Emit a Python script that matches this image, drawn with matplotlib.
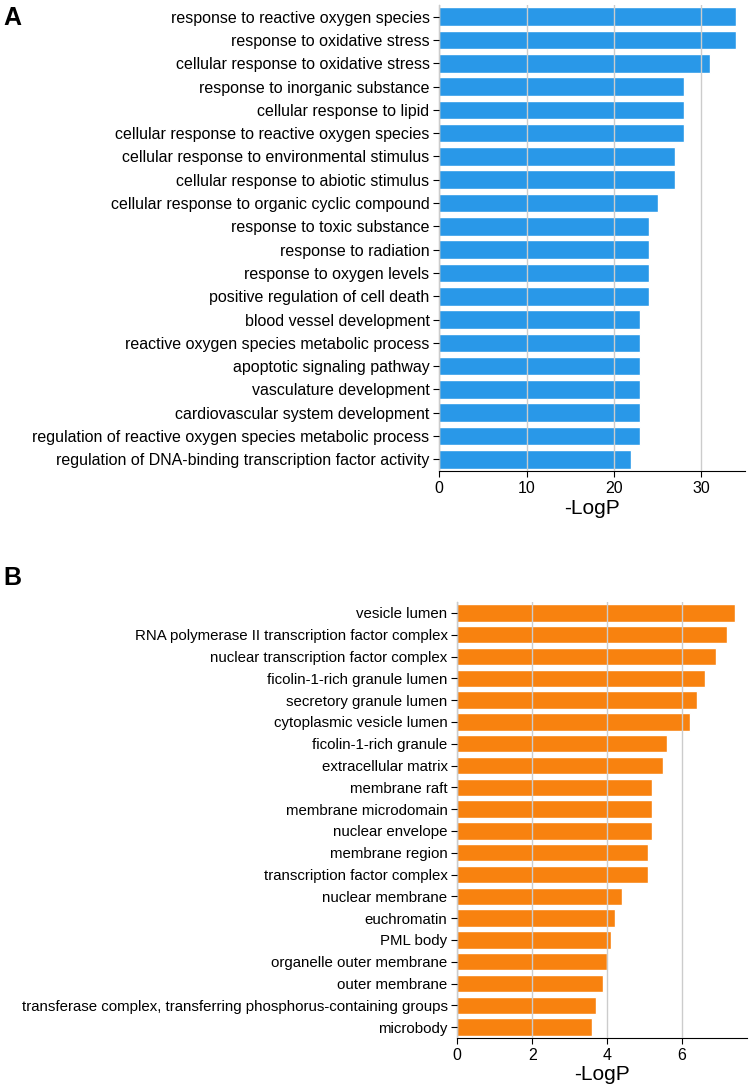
import matplotlib
matplotlib.use("Agg")
import matplotlib.pyplot as plt
import numpy as np

plt.rcParams['font.family'] = ['Liberation Sans', 'DejaVu Sans']

# panel A: biological process terms
bp_terms = [
    "response to reactive oxygen species",
    "response to oxidative stress",
    "cellular response to oxidative stress",
    "response to inorganic substance",
    "cellular response to lipid",
    "cellular response to reactive oxygen species",
    "cellular response to environmental stimulus",
    "cellular response to abiotic stimulus",
    "cellular response to organic cyclic compound",
    "response to toxic substance",
    "response to radiation",
    "response to oxygen levels",
    "positive regulation of cell death",
    "blood vessel development",
    "reactive oxygen species metabolic process",
    "apoptotic signaling pathway",
    "vasculature development",
    "cardiovascular system development",
    "regulation of reactive oxygen species metabolic process",
    "regulation of DNA-binding transcription factor activity",
]
bp_logp = [34, 34, 31, 28, 28, 28, 27, 27, 25, 24, 24, 24, 24, 23, 23, 23, 23, 23, 23, 22]

# panel B: cellular component terms
cc_terms = [
    "vesicle lumen",
    "RNA polymerase II transcription factor complex",
    "nuclear transcription factor complex",
    "ficolin-1-rich granule lumen",
    "secretory granule lumen",
    "cytoplasmic vesicle lumen",
    "ficolin-1-rich granule",
    "extracellular matrix",
    "membrane raft",
    "membrane microdomain",
    "nuclear envelope",
    "membrane region",
    "transcription factor complex",
    "nuclear membrane",
    "euchromatin",
    "PML body",
    "organelle outer membrane",
    "outer membrane",
    "transferase complex, transferring phosphorus-containing groups",
    "microbody",
]
cc_logp = [7.4, 7.2, 6.9, 6.6, 6.4, 6.2, 5.6, 5.5, 5.2, 5.2, 5.2, 5.1, 5.1, 4.4, 4.2, 4.1, 4.0, 3.9, 3.7, 3.6]

W, H = 750, 1088
fig = plt.figure(figsize=(W / 100, H / 100), dpi=100)


def draw_panel(rect, terms, vals, color, xmax, xticks, letter, letter_y, lab_size):
    ax = fig.add_axes(rect)
    y = np.arange(len(terms))
    ax.barh(y, vals, height=0.8, color=color, edgecolor='white', linewidth=1, zorder=1)
    ax.set_yticks(y)
    ax.set_yticklabels(terms, fontsize=lab_size)
    ax.set_ylim(len(terms) - 0.5, -0.5)
    ax.set_xlim(0, xmax)
    ax.set_xticks(xticks)
    ax.tick_params(axis='x', labelsize=11.5, length=4, pad=3)
    ax.tick_params(axis='y', length=4, pad=3)
    ax.xaxis.grid(True, color='#cccccc', linewidth=1, zorder=2)
    ax.set_axisbelow(False)
    for s in ('top', 'right'):
        ax.spines[s].set_visible(False)
    ax.set_xlabel('-LogP', fontsize=15, labelpad=2)
    fig.text(0.005, letter_y, letter, fontsize=18, fontweight='bold', va='center')
    return ax


draw_panel([439.3 / W, 1 - 471 / H, (745 - 439.3) / W, (471 - 5) / H],
           bp_terms, bp_logp, '#2998E8', 35.0, [0, 10, 20, 30], 'A', 1 - 18 / H, 11.5)
draw_panel([457.3 / W, 1 - 1038 / H, (747.3 - 457.3) / W, (1038 - 602) / H],
           cc_terms, cc_logp, '#F8820F', 7.74, [0, 2, 4, 6], 'B', 1 - 578 / H, 10.8)

fig.savefig('out.png', dpi=100)
